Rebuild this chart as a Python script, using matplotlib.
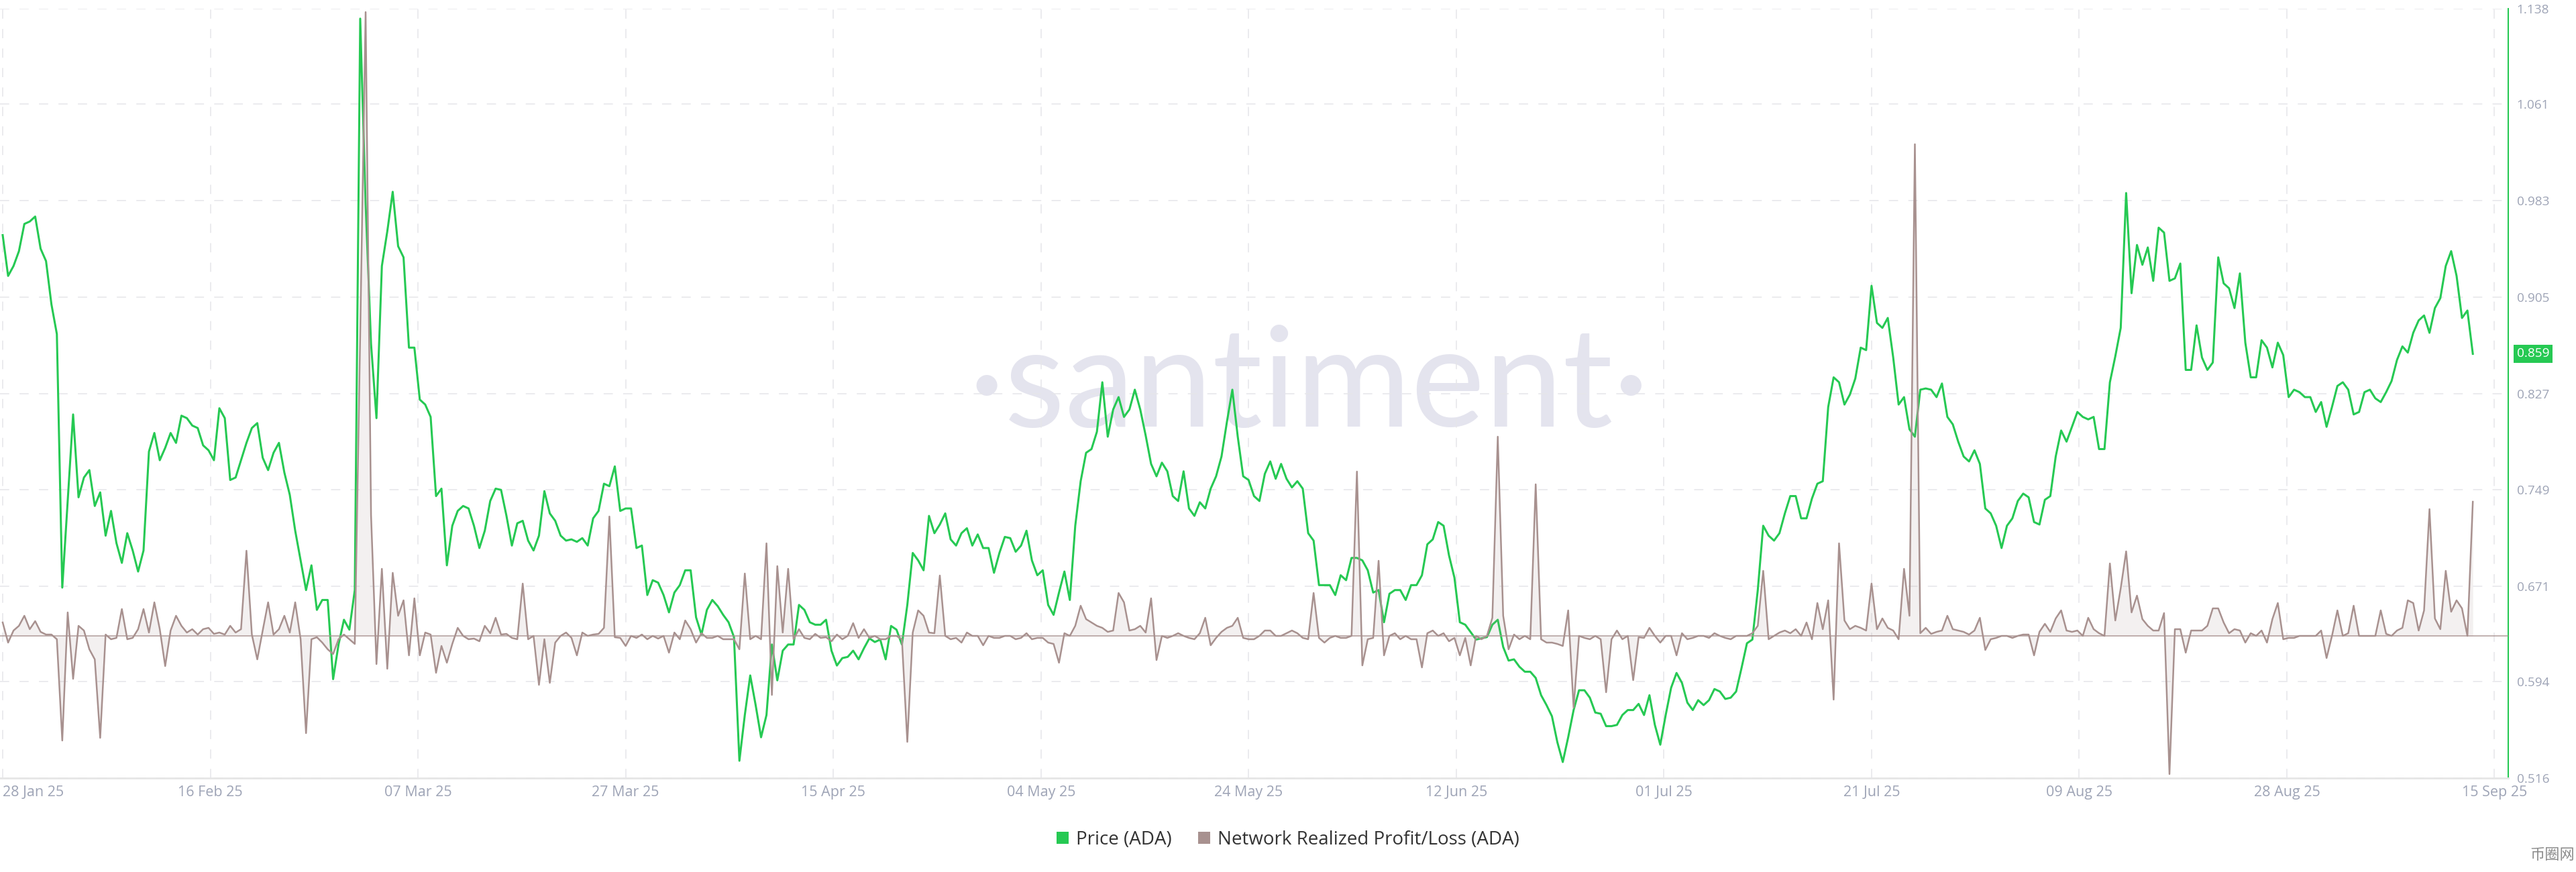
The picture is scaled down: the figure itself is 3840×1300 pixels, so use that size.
import numpy as np
import matplotlib
matplotlib.use('Agg')
import matplotlib.pyplot as plt
from matplotlib.patches import Patch

# ADA price, 12h samples starting 28 Jan 25
price = [
    0.955, 0.922, 0.930, 0.942, 0.964, 0.966, 0.970, 0.944, 0.934, 0.899, 0.875, 0.670, 0.740, 0.810, 0.743, 0.759, 0.765, 0.736, 0.747, 0.712,
    0.732, 0.706, 0.690, 0.714, 0.700, 0.683, 0.700, 0.780, 0.795, 0.773, 0.783, 0.795, 0.787, 0.809, 0.807, 0.801, 0.799, 0.785, 0.781, 0.773,
    0.815, 0.807, 0.757, 0.759, 0.773, 0.787, 0.799, 0.803, 0.775, 0.765, 0.779, 0.787, 0.763, 0.745, 0.716, 0.692, 0.668, 0.688, 0.652, 0.660,
    0.660, 0.596, 0.624, 0.644, 0.636, 0.668, 1.130, 0.980, 0.867, 0.807, 0.930, 0.958, 0.990, 0.946, 0.937, 0.864, 0.864, 0.822, 0.818, 0.808,
    0.744, 0.750, 0.688, 0.720, 0.732, 0.736, 0.734, 0.720, 0.702, 0.716, 0.740, 0.750, 0.749, 0.728, 0.704, 0.722, 0.724, 0.708, 0.700, 0.712,
    0.748, 0.730, 0.724, 0.712, 0.708, 0.709, 0.707, 0.710, 0.704, 0.726, 0.732, 0.754, 0.752, 0.768, 0.732, 0.734, 0.734, 0.702, 0.704, 0.664,
    0.676, 0.674, 0.664, 0.650, 0.666, 0.672, 0.684, 0.684, 0.646, 0.632, 0.652, 0.660, 0.655, 0.648, 0.642, 0.630, 0.530, 0.567, 0.599, 0.575,
    0.549, 0.567, 0.624, 0.595, 0.619, 0.624, 0.624, 0.656, 0.652, 0.642, 0.640, 0.640, 0.644, 0.619, 0.607, 0.613, 0.614, 0.619, 0.612, 0.621,
    0.629, 0.626, 0.628, 0.612, 0.639, 0.636, 0.624, 0.656, 0.698, 0.692, 0.684, 0.728, 0.714, 0.721, 0.730, 0.709, 0.704, 0.714, 0.718, 0.704,
    0.713, 0.702, 0.702, 0.682, 0.698, 0.711, 0.710, 0.699, 0.704, 0.716, 0.692, 0.680, 0.684, 0.656, 0.648, 0.666, 0.683, 0.660, 0.720, 0.756,
    0.779, 0.782, 0.796, 0.836, 0.792, 0.814, 0.824, 0.808, 0.814, 0.830, 0.814, 0.793, 0.770, 0.760, 0.771, 0.764, 0.744, 0.740, 0.764, 0.734,
    0.728, 0.739, 0.734, 0.750, 0.760, 0.776, 0.804, 0.830, 0.792, 0.760, 0.757, 0.744, 0.740, 0.762, 0.772, 0.758, 0.770, 0.758, 0.751, 0.756,
    0.750, 0.714, 0.708, 0.672, 0.672, 0.672, 0.664, 0.680, 0.676, 0.694, 0.694, 0.692, 0.684, 0.666, 0.668, 0.642, 0.665, 0.668, 0.668, 0.660,
    0.672, 0.672, 0.680, 0.705, 0.709, 0.723, 0.720, 0.696, 0.678, 0.642, 0.640, 0.634, 0.628, 0.629, 0.630, 0.640, 0.644, 0.622, 0.611, 0.612,
    0.606, 0.602, 0.602, 0.597, 0.583, 0.575, 0.566, 0.545, 0.529, 0.549, 0.571, 0.587, 0.587, 0.581, 0.569, 0.568, 0.558, 0.558, 0.559, 0.567,
    0.571, 0.571, 0.576, 0.567, 0.583, 0.559, 0.543, 0.567, 0.589, 0.601, 0.593, 0.577, 0.571, 0.579, 0.575, 0.579, 0.588, 0.586, 0.580, 0.581,
    0.586, 0.605, 0.625, 0.628, 0.668, 0.720, 0.712, 0.708, 0.714, 0.730, 0.744, 0.744, 0.726, 0.726, 0.742, 0.754, 0.756, 0.816, 0.840, 0.836,
    0.818, 0.826, 0.839, 0.864, 0.862, 0.914, 0.884, 0.880, 0.888, 0.856, 0.818, 0.824, 0.798, 0.792, 0.830, 0.831, 0.830, 0.824, 0.835, 0.808,
    0.802, 0.788, 0.776, 0.772, 0.781, 0.770, 0.734, 0.730, 0.720, 0.702, 0.720, 0.726, 0.740, 0.746, 0.743, 0.723, 0.721, 0.741, 0.744, 0.776,
    0.797, 0.788, 0.800, 0.812, 0.808, 0.806, 0.808, 0.782, 0.782, 0.836, 0.857, 0.880, 0.989, 0.908, 0.947, 0.931, 0.945, 0.918, 0.961, 0.957,
    0.918, 0.920, 0.932, 0.846, 0.846, 0.882, 0.856, 0.846, 0.852, 0.937, 0.916, 0.912, 0.896, 0.924, 0.868, 0.840, 0.840, 0.870, 0.864, 0.848,
    0.868, 0.858, 0.824, 0.830, 0.828, 0.824, 0.824, 0.812, 0.820, 0.800, 0.816, 0.833, 0.836, 0.830, 0.810, 0.812, 0.828, 0.830, 0.823, 0.820,
    0.828, 0.837, 0.854, 0.865, 0.860, 0.876, 0.886, 0.890, 0.876, 0.896, 0.904, 0.930, 0.942, 0.922, 0.888, 0.894, 0.859,
]

# network realized profit/loss, same samples (hidden axis, relative units)
realized_pl = [
    2.0, -1.0, 0.8, 1.5, 3.0, 1.0, 2.2, 0.6, 0.2, 0.2, -0.5, -15.6, 3.5, -6.4, 1.5, 0.8, -2.0, -3.5, -15.2, 0.2,
    -0.5, -0.3, 4.0, -0.5, -0.3, 1.0, 4.0, 0.5, 5.0, 1.0, -4.5, 0.8, 3.0, 1.5, 0.5, 1.0, 0.2, 1.0, 1.2, 0.3,
    0.5, 0.2, 1.5, 0.5, 1.0, 12.7, 0.2, -3.5, 0.8, 5.0, 0.2, 1.0, 3.0, 0.5, 5.0, -0.5, -14.5, -0.5, -0.2, -1.0,
    -2.0, -2.7, -0.5, 0.2, -0.5, -1.2, 45.0, 93.0, 18.0, -4.2, 10.0, -4.9, 9.4, 3.0, 5.3, -2.9, 5.6, -2.9, 0.5, 0.2,
    -5.5, -1.5, -4.0, -1.2, 1.2, 0.0, -0.5, -0.4, -0.8, 1.5, 0.4, 2.7, 0.2, 0.3, -0.3, -0.5, 7.8, -0.5, 0.0, -7.3,
    -0.5, -7.0, -1.0, 0.0, 0.5, -0.3, -2.9, 0.5, 0.0, 0.2, 0.3, 1.2, 17.8, -0.2, -0.3, -1.5, 0.0, -0.3, 0.2, -0.5,
    0.0, -0.4, 0.0, -2.5, 0.5, -0.5, 2.3, 1.0, -1.0, 0.4, -0.3, -0.3, 0.0, -0.5, -0.5, -0.5, -2.0, 9.3, -0.5, 0.0,
    -0.5, 13.8, -8.8, 10.4, 0.5, 10.0, -0.5, 1.0, -0.3, -0.5, 0.3, -0.3, -0.2, -0.8, 0.2, -0.5, 0.0, 1.9, -0.3, 1.0,
    -0.3, 0.0, -0.5, -0.5, 0.0, 0.0, -0.5, -15.8, 0.5, 3.8, 3.0, 0.5, 0.4, 9.0, 0.0, -0.5, -0.3, -1.0, 0.5, 0.0,
    0.0, -1.4, 0.0, -0.3, -0.3, 0.0, 0.0, -0.5, -0.3, 0.4, -0.5, -0.3, -0.3, -1.0, -1.2, -4.0, 0.4, 0.0, 1.5, 4.5,
    2.5, 2.0, 1.5, 1.2, 0.6, 0.8, 6.4, 5.0, 0.8, 1.0, 1.5, 0.5, 5.6, -3.6, 0.0, -0.3, 0.0, 0.4, 0.0, -0.3,
    -0.5, 0.4, 2.7, -1.4, -0.3, 0.6, 1.2, 1.5, 2.7, -0.3, -0.5, -0.5, 0.0, 0.8, 0.8, 0.0, 0.0, 0.4, 0.8, 0.4,
    -0.3, -0.5, 6.4, -0.3, -1.0, -0.3, 0.0, -0.3, -0.3, 0.0, 24.5, -4.4, -0.5, -0.3, 11.2, -2.9, 0.0, 0.4, -0.5, 0.0,
    -0.5, -0.5, -4.7, 0.4, 0.8, 0.0, 0.4, -0.8, -0.3, -2.9, -0.3, -4.4, 0.0, -0.5, 0.0, 2.7, 29.7, 3.0, -2.0, 0.2,
    -0.5, 0.0, -0.5, 22.6, -0.5, -1.0, -1.0, -1.2, -1.5, 3.8, -10.7, 0.0, -0.3, -0.5, 0.0, -0.5, -8.4, -0.5, 0.8, -0.5,
    0.0, -6.6, -0.2, -0.3, 1.2, 0.0, -1.0, 0.0, 0.0, -2.9, 0.4, -0.5, -0.3, 0.0, 0.0, -0.3, 0.4, 0.0, -0.3, -0.5,
    0.0, 0.0, 0.0, 0.4, 1.5, 9.7, -0.5, 0.0, 0.5, 0.8, 0.4, 1.0, 0.0, 2.0, -0.5, 4.9, 1.0, 5.3, -9.5, 13.8,
    2.3, 1.0, 1.5, 1.2, 0.8, 7.8, 1.0, 2.6, 1.2, 0.8, -0.5, 10.0, 3.0, 73.3, 0.4, 1.2, 0.3, 0.6, 0.8, 3.0,
    1.0, 0.8, 0.6, 0.2, 0.8, 2.7, -2.1, -0.5, -0.3, 0.0, 0.0, -0.3, 0.0, 0.2, 0.2, -2.9, 0.6, 1.8, 0.6, 2.6,
    3.8, 0.8, 0.6, 0.8, 0.0, 2.7, 1.0, 0.4, 0.0, 10.8, 2.3, 7.1, 12.6, 3.5, 6.0, 2.5, 1.5, 0.8, 0.8, 3.4,
    -20.6, 1.0, 1.0, -2.5, 0.8, 0.8, 0.8, 1.5, 4.1, 4.1, 2.0, 0.4, 1.0, 0.8, -1.0, 0.4, 0.0, 0.8, -1.0, 2.5,
    4.9, -0.5, -0.3, -0.3, 0.0, 0.0, 0.0, 0.0, 0.8, -3.3, 0.0, 3.8, 0.0, 0.4, 4.5, 0.0, 0.0, 0.0, 0.0, 3.8,
    0.3, 0.0, 0.8, 1.2, 5.3, 4.9, 0.8, 3.8, 18.9, 2.6, 1.0, 9.7, 3.6, 5.3, 4.1, 0.0, 20.0,
]

date_labels = ['28 Jan 25', '16 Feb 25', '07 Mar 25', '27 Mar 25', '15 Apr 25', '04 May 25', '24 May 25',
               '12 Jun 25', '01 Jul 25', '21 Jul 25', '09 Aug 25', '28 Aug 25', '15 Sep 25']
price_ticks = [0.516, 0.594, 0.671, 0.749, 0.827, 0.905, 0.983, 1.061, 1.138]
price_labels = ['0.516', '0.594', '0.671', '0.749', '0.827', '0.905', '0.983', '1.061', '1.138']

green = '#26c953'
mauve = '#a8918f'
tick_col = '#9ea4b6'
grid_col = '#e6e6ea'

plt.rcParams['font.family'] = ['Open Sans', 'DejaVu Sans']

days = np.arange(len(price)) * 0.5  # 12h steps

fig = plt.figure(figsize=(38.4, 13), dpi=100)
fig.patch.set_facecolor('white')
ax = fig.add_axes([0, 0.10769, 0.97370, 0.88231])
ax.set_facecolor('none')

# realized profit/loss on its own hidden scale (twinx resets ax ticks, so do it first)
ax2 = ax.twinx()

# watermark
ax.text(0.5218, 0.4568, '\u00b7santiment\u00b7', transform=ax.transAxes, ha='center', va='baseline',
        fontsize=150, color='#e4e4ee', family=['Lato', 'DejaVu Sans'], zorder=0)

ax.plot(days, price, color=green, lw=2.2, zorder=3)
ax.set_xlim(-0.248, 231.27)
ax.set_ylim(price_ticks[0], price_ticks[-1])

ax.set_xticks(np.linspace(0, 230, len(date_labels)))
ax.set_xticklabels(date_labels)
ax.get_xticklabels()[0].set_horizontalalignment('left')
ax.set_yticks(price_ticks)
ax.set_yticklabels(price_labels)
ax.yaxis.tick_right()
ax.yaxis.set_label_position('right')
ax.tick_params(axis='y', which='both', left=False, right=False, labelleft=False, labelright=True,
               length=0, pad=9, labelsize=13.7, labelcolor=tick_col)
ax.tick_params(axis='x', length=0, pad=8, labelsize=15.5, labelcolor=tick_col)
ax.grid(True, color=grid_col, linestyle=(0, (9, 10)), linewidth=1.1)
ax.set_axisbelow(True)

for s in ['left', 'top']:
    ax.spines[s].set_visible(False)
ax.spines['right'].set_color(green)
ax.spines['right'].set_linewidth(1.5)
ax.spines['bottom'].set_color('#e6e6e6')
ax.spines['bottom'].set_linewidth(2)

# current price marker
ax.annotate(f'{price[-1]:.3f}', xy=(1, price[-1]), xycoords=('axes fraction', 'data'),
            xytext=(9.4, 0), textcoords='offset points', ha='left', va='center',
            color='white', fontsize=13.7,
            bbox=dict(boxstyle='square,pad=0.25', fc=green, ec='none'))

ax2.set_ylim(-21.2, 93.5)
ax2.fill_between(days, realized_pl, 0, color=mauve, alpha=0.13, lw=0)
ax2.axhline(0, color=mauve, lw=1.1, alpha=0.9)
ax2.plot(days, realized_pl, color=mauve, lw=1.8)
ax2.set_yticks([])
ax2.tick_params(axis='both', length=0)
for s in ax2.spines.values():
    s.set_visible(False)

handles = [Patch(facecolor=green, edgecolor='none', label='Price (ADA)'),
           Patch(facecolor=mauve, edgecolor='none', label='Network Realized Profit/Loss (ADA)')]
fig.legend(handles=handles, loc='center', bbox_to_anchor=(0.5, 0.037), ncol=2, frameon=False,
           fontsize=20, handlelength=0.65, handleheight=0.65, handletextpad=0.4,
           columnspacing=1.4, labelcolor='#333333')

fig.text(0.9995, 0.011, '币圈网', ha='right', va='bottom', fontsize=16, color='#8c8c8c',
         family=['Noto Sans CJK SC', 'DejaVu Sans'])

fig.savefig('out.png', dpi=100, facecolor='white')
